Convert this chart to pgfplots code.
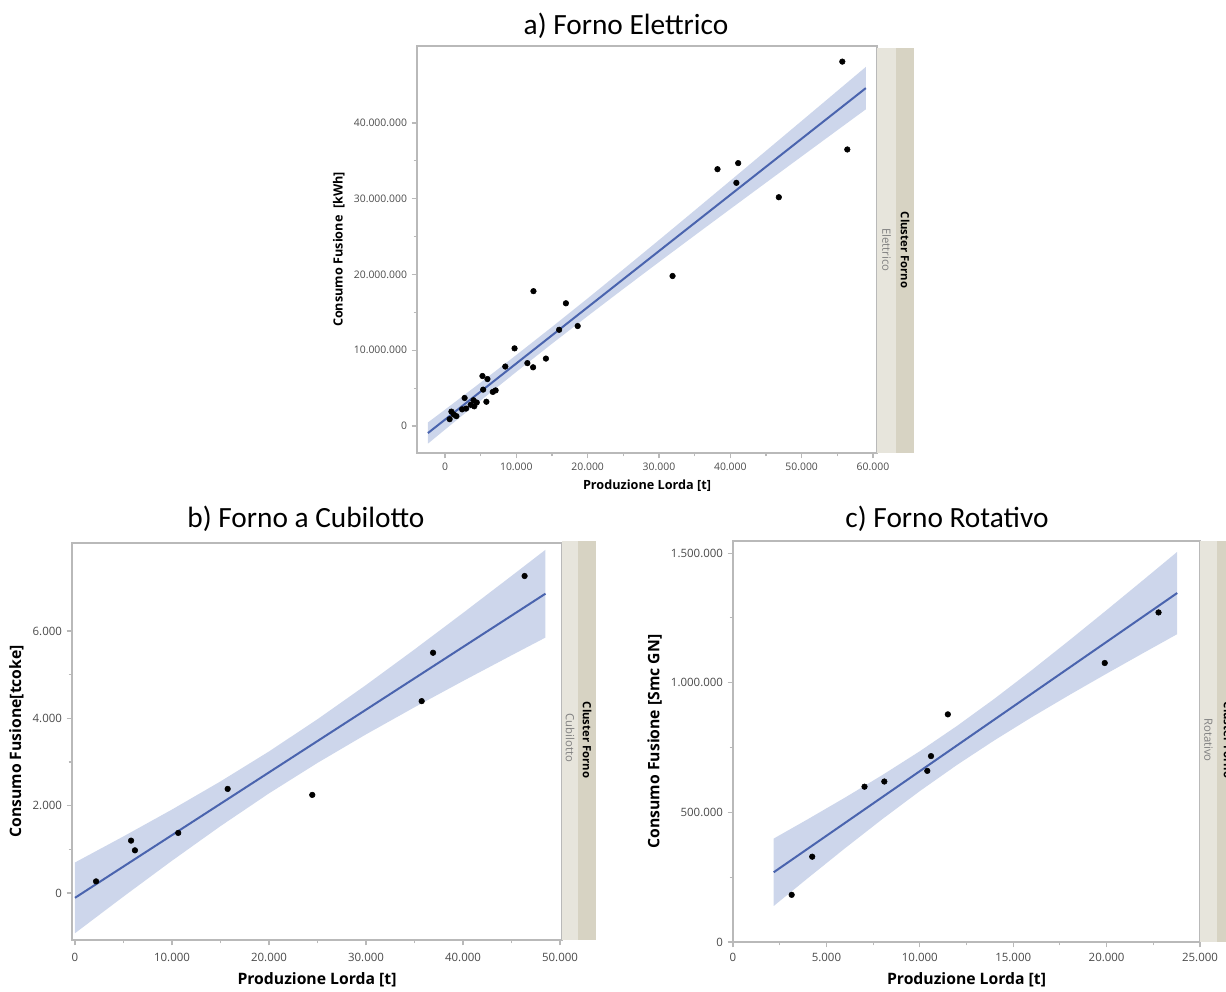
\documentclass[border=0pt]{standalone}
\usepackage{fontspec}
\setmainfont{Open Sans}
\newfontfamily\titlefont{Carlito}
\usepackage{pgfplots}
\pgfplotsset{compat=1.18}
\usepgfplotslibrary{fillbetween}
\definecolor{axgray}{HTML}{B9B9B9}
\definecolor{tickgray}{HTML}{4A4A4A}
\definecolor{fitblue}{HTML}{4A64AE}
\definecolor{bandblue}{HTML}{CDD6EB}
\definecolor{stripL}{HTML}{E7E5DC}
\definecolor{stripD}{HTML}{D7D3C3}
\pgfplotsset{jmp/.style={
  scale only axis, anchor=south west,
  axis line style={axgray, line width=1.3pt},
  tick style={axgray, line width=0.8pt},
  tick align=outside, major tick length=4pt, minor tick length=2.5pt,
  minor tick num=1, tick pos=left,
  tick label style={tickgray},
  /pgf/number format/1000 sep={.},
  /pgf/number format/fixed,
  /pgf/number format/assume math mode=true,
  scaled ticks=false,
  label style={black, font=\bfseries},
}}
\begin{document}
\begin{tikzpicture}
\begin{scope}[x=0.75pt,y=-0.75pt]
\useasboundingbox (0,0) rectangle (1226,989);
% ---------- strips ----------
\fill[stripL] (877,48) rectangle (896,453);
\fill[stripD] (896,48) rectangle (914,453);
\node[rotate=-90, font=\bfseries\fontsize{8.5}{9}\selectfont] at (905,250) {Cluster Forno};
\node[rotate=-90, text=gray, font=\fontsize{8.5}{9}\selectfont] at (886.5,250) {Elettrico};
\fill[stripL] (562,541) rectangle (578,940);
\fill[stripD] (578,541) rectangle (596,940);
\node[rotate=-90, font=\bfseries\fontsize{8.5}{9}\selectfont] at (587,740) {Cluster Forno};
\node[rotate=-90, text=gray, font=\fontsize{8.5}{9}\selectfont] at (570,738) {Cubilotto};
\fill[stripL] (1200,541) rectangle (1217,942);
\fill[stripD] (1217,541) rectangle (1240,942);
\node[rotate=-90, font=\bfseries\fontsize{8.5}{9}\selectfont] at (1228,740) {Cluster Forno};
\node[rotate=-90, text=gray, font=\fontsize{8.5}{9}\selectfont] at (1208.5,740) {Rotativo};
% ---------- titles ----------
\node[anchor=base, font=\titlefont\fontsize{22}{24}\selectfont] at (626,35) {a) Forno Elettrico};
\node[anchor=base, font=\titlefont\fontsize{22}{24}\selectfont] at (306,527) {b) Forno a Cubilotto};
\node[anchor=base, font=\titlefont\fontsize{22}{24}\selectfont] at (947,527) {c) Forno Rotativo};
\end{scope}

% ---------- a) ----------
\begin{axis}[jmp, at={(312.75pt,-339.75pt)}, width=345pt, height=305.25pt,
  xmin=-3925, xmax=60565, ymin=-3564000, ymax=50160000,
  xtick={0,10000,20000,30000,40000,50000,60000},
  ytick={0,10000000,20000000,30000000,40000000},
  tick label style={font=\fontsize{7.8}{9}\selectfont},
  label style={font=\bfseries\fontsize{9.5}{11}\selectfont},
  xlabel={Produzione Lorda [t]}, ylabel={Consumo Fusione\ \ [kWh]}]
\addplot[name path=aup, draw=none] coordinates {(-2400,460000) (0,2162000) (5000,5740000) (10000,9373000) (15000,13075000) (20000,16845000) (25000,20675000) (30000,24548000) (35000,28454000) (40000,32380000) (45000,36321000) (50000,40272000) (55000,44231000) (59000,47402000)};
\addplot[name path=alo, draw=none] coordinates {(-2400,-2334000) (0,-476000) (5000,3364000) (10000,7147000) (15000,10863000) (20000,14509000) (25000,18097000) (30000,21640000) (35000,25152000) (40000,28642000) (45000,32119000) (50000,35584000) (55000,39043000) (59000,41804000)};
\addplot[bandblue] fill between[of=aup and alo];
\addplot[fitblue, line width=1.5pt] coordinates {(-2400,-937000) (59000,44603000)};
\addplot[only marks, mark=*, mark size=2.1pt, black] coordinates {
(55700,48100000) (56400,36500000) (38200,33900000) (41100,34700000) (40850,32100000)
(46800,30200000) (31900,19800000) (12400,17800000) (16950,16200000) (16000,12700000)
(18600,13200000) (9750,10250000) (14150,8900000) (11550,8300000) (12350,7750000)
(8450,7850000) (5250,6600000) (5950,6200000) (5350,4800000) (6700,4500000)
(7100,4700000) (5800,3200000) (2750,3700000) (4000,3400000) (4450,3100000)
(4100,2600000) (2950,2300000) (2400,2200000) (900,1900000) (1600,1300000)
(650,900000) (1250,1500000) (3600,2800000)};
\end{axis}

% ---------- b) ----------
\begin{axis}[jmp, at={(54pt,-705pt)}, width=367.5pt, height=297.75pt,
  xmin=-309, xmax=50206, ymin=-1076, ymax=8015,
  xtick={0,10000,20000,30000,40000,50000},
  ytick={0,2000,4000,6000},
  tick label style={font=\fontsize{8.6}{10}\selectfont},
  xticklabel style={yshift=-2pt},
  label style={font=\bfseries\fontsize{11.8}{13}\selectfont},
  xlabel style={yshift=-2pt},
  xlabel={Produzione Lorda [t]}, ylabel={Consumo Fusione[tcoke]}]
\addplot[name path=bup, draw=none] coordinates {(0,700) (5000,1297) (10000,1912) (15000,2556) (20000,3242) (25000,3980) (30000,4763) (35000,5578) (40000,6413) (45000,7261) (48500,7860)};
\addplot[name path=blo, draw=none] coordinates {(0,-920) (5000,-81) (10000,740) (15000,1532) (20000,2282) (25000,2980) (30000,3633) (35000,4254) (40000,4855) (45000,5443) (48500,5850)};
\addplot[bandblue] fill between[of=bup and blo];
\addplot[fitblue, line width=1.5pt] coordinates {(0,-110) (48500,6855)};
\addplot[only marks, mark=*, mark size=2.1pt, black] coordinates {
(2170,267) (5780,1200) (6180,978) (10640,1376) (15740,2384)
(24460,2247) (35740,4394) (36910,5502) (46350,7260)};
\end{axis}

% ---------- c) ----------
\begin{axis}[jmp, at={(549.75pt,-706.5pt)}, width=350.25pt, height=300.75pt,
  xmin=0, xmax=25000, ymin=0, ymax=1546500,
  xtick={0,5000,10000,15000,20000,25000},
  ytick={0,500000,1000000,1500000},
  tick label style={font=\fontsize{8.6}{10}\selectfont},
  xticklabel style={yshift=-1pt},
  label style={font=\bfseries\fontsize{11.8}{13}\selectfont},
  xlabel style={yshift=-1pt},
  xlabel={Produzione Lorda [t]}, ylabel={Consumo Fusione [Smc GN]}]
\addplot[name path=cup, draw=none] coordinates {(2180,399000) (4000,473400) (6000,557200) (8000,644100) (10000,735800) (12000,833800) (14000,938500) (16000,1048900) (18000,1163200) (20000,1280000) (22000,1398400) (23780,1504700)};
\addplot[name path=clo, draw=none] coordinates {(2180,139000) (4000,246000) (6000,361800) (8000,474300) (10000,582000) (12000,683400) (14000,778100) (16000,867300) (18000,952400) (20000,1035000) (22000,1116000) (23780,1187300)};
\addplot[bandblue] fill between[of=cup and clo];
\addplot[fitblue, line width=1.5pt] coordinates {(2180,269000) (23780,1346000)};
\addplot[only marks, mark=*, mark size=2.1pt, black] coordinates {
(3140,182000) (4240,329000) (7040,599000) (8100,619000) (10400,660000)
(10600,717000) (11500,878000) (19900,1076000) (22780,1271000)};
\end{axis}
\end{tikzpicture}
\end{document}
